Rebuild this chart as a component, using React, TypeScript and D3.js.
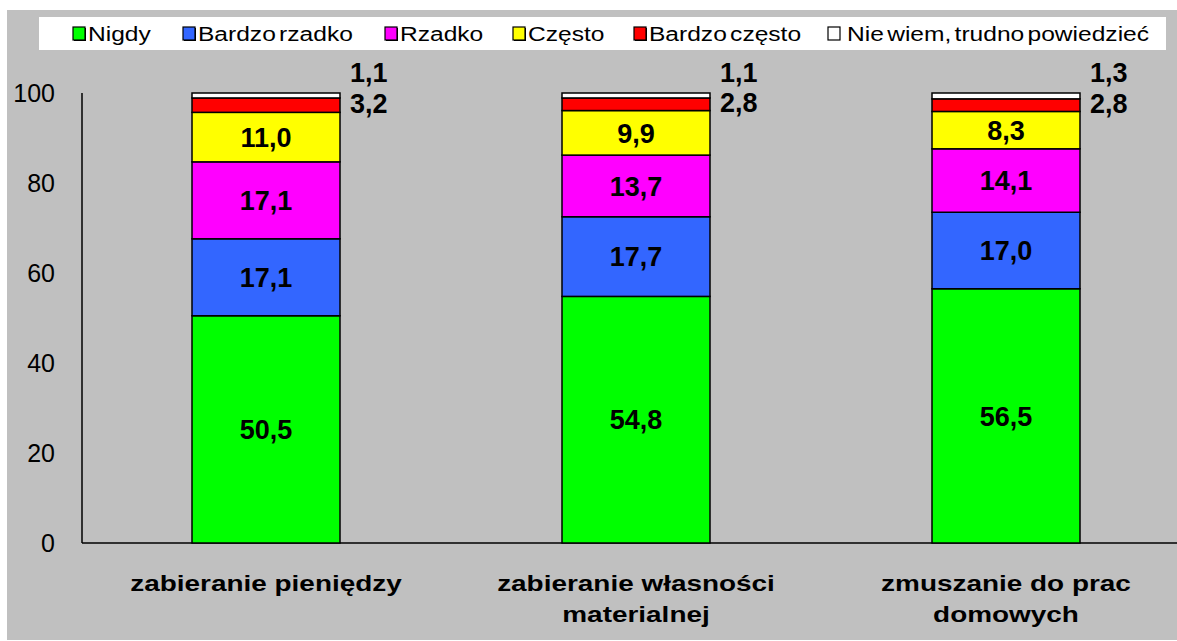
import React from 'react';
import * as d3 from 'd3';

const categories = [
  ['zabieranie pieniędzy'],
  ['zabieranie własności', 'materialnej'],
  ['zmuszanie do prac', 'domowych'],
];
const seriesNames = ['Nigdy', 'Bardzo rzadko', 'Rzadko', 'Często', 'Bardzo często', 'Nie wiem, trudno powiedzieć'];
const nigdy = [50.5, 54.8, 56.5];
const bardzoRzadko = [17.1, 17.7, 17.0];
const rzadko = [17.1, 13.7, 14.1];
const czesto = [11.0, 9.9, 8.3];
const bardzoCzesto = [3.2, 2.8, 2.8];
const nieWiem = [1.1, 1.1, 1.3];
const yTicks = [0, 20, 40, 60, 80, 100];

const colors = ['#00FF00', '#3366FF', '#FF00FF', '#FFFF00', '#FF0000', '#FFFFFF'];
const legendX = [73, 183, 385, 513, 634, 828];

const W = 1177;
const H = 641;
const FONT = '"Liberation Sans", Arial, sans-serif';

const fmt = (v: number) => v.toFixed(1).replace('.', ',');

const App = () => {
  const series = [nigdy, bardzoRzadko, rzadko, czesto, bardzoCzesto, nieWiem];
  const keys = categories.map((_, i) => i);

  const x = d3.scaleBand<number>()
    .domain(keys)
    .range([81, 1191])
    .paddingInner(0.6)
    .paddingOuter(0.3);

  const y = d3.scaleLinear().domain([0, 100]).range([543, 93]);

  const rows = keys.map(i => {
    const r: any = { i };
    series.forEach((s, k) => { r[k] = s[i]; });
    return r;
  });
  const stacked = d3.stack<any>().keys(series.map((_, k) => String(k)))(rows);

  return (
    <svg width={W} height={H} style={{ position: 'absolute', left: 0, top: 0, display: 'block' }} fontFamily={FONT}>
      <rect x={0} y={0} width={W} height={H} fill="#fff" />
      <rect x={7} y={10} width={W - 7} height={630} fill="#C0C0C0" />

      {/* legend */}
      <rect x={39} y={17} width={1127} height={33} fill="#fff" />
      {seriesNames.map((name, k) => (
        <g key={name} transform={`translate(${legendX[k]},0)`}>
          {k < 5 && <rect x={1} y={28} width={12} height={13} fill="#000" />}
          <rect x={0} y={27} width={12} height={13} fill={colors[k]} stroke="#000" strokeWidth={1.2} />
          <text x={k < 5 ? 15 : 19} y={41} fontSize={21} wordSpacing={-3}
            transform={`scale(1.17,1)`} style={{ transformBox: 'fill-box' } as any}
            >{name}</text>
        </g>
      ))}

      {/* axes */}
      <line x1={82} x2={82} y1={y(100)} y2={y(0)} stroke="#000" strokeWidth={1.5} />
      <line x1={82} x2={W} y1={y(0)} y2={y(0)} stroke="#000" strokeWidth={1.5} />
      {yTicks.map(t => (
        <text key={t} x={55} y={y(t)} dy="0.36em" textAnchor="end" fontSize={25}>{t}</text>
      ))}

      {/* bars */}
      {stacked.map((layer, k) => (
        <g key={k}>
          {layer.map((d, i) => (
            <rect key={i}
              x={x(i)!}
              y={y(d[1])}
              width={x.bandwidth()}
              height={y(d[0]) - y(d[1])}
              fill={colors[k]}
              stroke="#000"
              strokeWidth={1.5} />
          ))}
        </g>
      ))}

      {/* value labels */}
      {stacked.map((layer, k) => layer.map((d, i) => {
        const v = series[k][i];
        const bx = x(i)!;
        if (k < 4) {
          return (
            <text key={`${k}-${i}`} x={bx + x.bandwidth() / 2} y={y((d[0] + d[1]) / 2)} dy="0.36em"
              textAnchor="middle" fontSize={27} fontWeight="bold">{fmt(v)}</text>
          );
        }
        const cy = k === 4 ? y((d[0] + d[1]) / 2) - 2 : y(d[1]) - 21;
        return (
          <text key={`${k}-${i}`} x={bx + x.bandwidth() + 10} y={cy} dy="0.36em"
            fontSize={27} fontWeight="bold">{fmt(v)}</text>
        );
      }))}

      {/* category labels */}
      {categories.map((lines, i) => {
        const cx = x(i)! + x.bandwidth() / 2;
        return (
          <g key={i} transform={`translate(${cx},0) scale(1.27,1)`}>
            {lines.map((ln, j) => (
              <text key={j} x={0} y={591 + j * 31} textAnchor="middle" fontSize={22} fontWeight="bold">{ln}</text>
            ))}
          </g>
        );
      })}
    </svg>
  );
};

export default App;
